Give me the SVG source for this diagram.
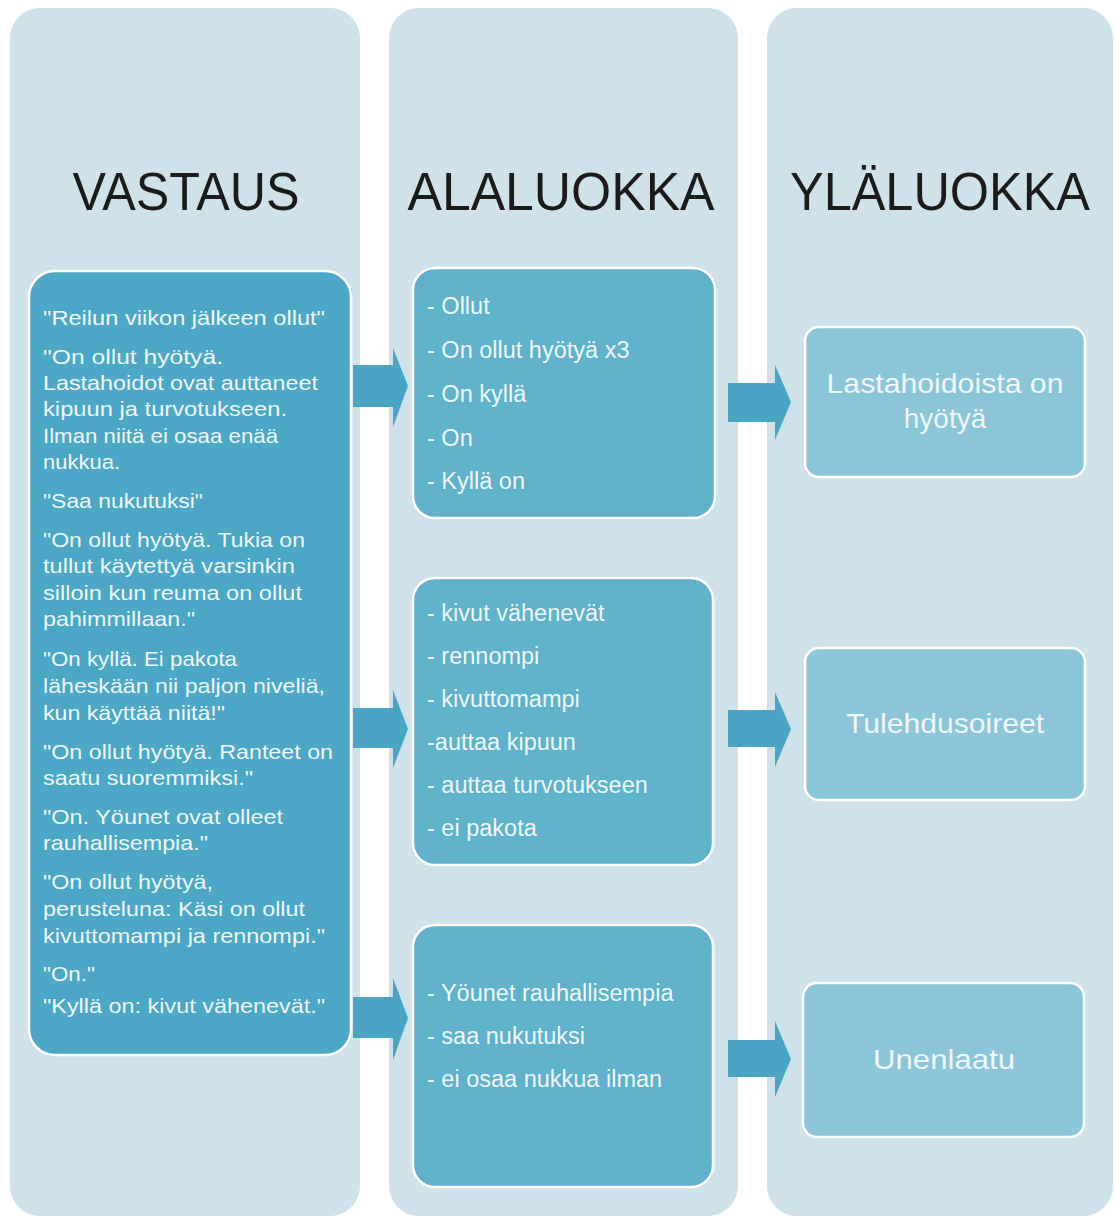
<svg xmlns="http://www.w3.org/2000/svg" width="1114" height="1218" viewBox="0 0 1114 1218">
<style>
.col{fill:#d0e2e9}
.hdr{font-family:"Liberation Sans",Arial,sans-serif;font-size:54px;fill:#1b1b1b}
.lbox{fill:#4ca6c6;stroke:#ffffff;stroke-width:2.5}
.mbox{fill:#5fb1cc;stroke:#ffffff;stroke-width:2.5}
.rbox{fill:#8ac5d9;stroke:#ffffff;stroke-width:2.5}
.lt{font-family:"Liberation Sans",Arial,sans-serif;font-size:21px;fill:#eef8fb}
.mt{font-family:"Liberation Sans",Arial,sans-serif;font-size:23.5px;fill:#eef8fb}
.rt{font-family:"Liberation Sans",Arial,sans-serif;font-size:28px;fill:#eef8fb;text-anchor:middle}
.arr{fill:#4aa5c4}
</style>
<rect width="1114" height="1218" fill="#ffffff"/>
<g id="columns">
<rect class="col" x="10" y="8" width="350" height="1208" rx="30"/>
<rect class="col" x="389" y="8" width="349" height="1208" rx="30"/>
<rect class="col" x="767" y="8" width="346" height="1208" rx="30"/>
</g>
<g id="headers">
<text class="hdr" x="186" y="210" text-anchor="middle" textLength="227" lengthAdjust="spacingAndGlyphs">VASTAUS</text>
<text class="hdr" x="561" y="210" text-anchor="middle" textLength="307" lengthAdjust="spacingAndGlyphs">ALALUOKKA</text>
<text class="hdr" x="940" y="210" text-anchor="middle" textLength="300" lengthAdjust="spacingAndGlyphs">YLÄLUOKKA</text>
</g>
<g id="connectors">
<polygon class="arr" points="353,365 393,365 393,348 408,386 393,427 393,407 353,407"/>
<polygon class="arr" points="353,708 393,708 393,690 408,729 393,768 393,748 353,748"/>
<polygon class="arr" points="353,997 393,997 393,978 408,1018 393,1060 393,1038 353,1038"/>
<polygon class="arr" points="728,383 775,383 775,365 791,402 775,440 775,422 728,422"/>
<polygon class="arr" points="728,710 775,710 775,692 791,729 775,767 775,747 728,747"/>
<polygon class="arr" points="728,1040 775,1040 775,1021 791,1059 775,1097 775,1077 728,1077"/>
</g>
<g id="vastaus">
<rect class="lbox" x="29" y="271" width="322" height="784" rx="26"/>
<text class="lt" x="43" y="325" textLength="282" lengthAdjust="spacingAndGlyphs">"Reilun viikon jälkeen ollut"</text>
<text class="lt" x="43" y="364" textLength="180" lengthAdjust="spacingAndGlyphs">"On ollut hyötyä.</text>
<text class="lt" x="43" y="390" textLength="275" lengthAdjust="spacingAndGlyphs">Lastahoidot ovat auttaneet</text>
<text class="lt" x="43" y="416" textLength="244" lengthAdjust="spacingAndGlyphs">kipuun ja turvotukseen.</text>
<text class="lt" x="43" y="443" textLength="235" lengthAdjust="spacingAndGlyphs">Ilman niitä ei osaa enää</text>
<text class="lt" x="43" y="469" textLength="77" lengthAdjust="spacingAndGlyphs">nukkua.</text>
<text class="lt" x="43" y="508" textLength="160" lengthAdjust="spacingAndGlyphs">"Saa nukutuksi"</text>
<text class="lt" x="43" y="547" textLength="262" lengthAdjust="spacingAndGlyphs">"On ollut hyötyä. Tukia on</text>
<text class="lt" x="43" y="573" textLength="252" lengthAdjust="spacingAndGlyphs">tullut käytettyä varsinkin</text>
<text class="lt" x="43" y="600" textLength="259" lengthAdjust="spacingAndGlyphs">silloin kun reuma on ollut</text>
<text class="lt" x="43" y="626" textLength="152" lengthAdjust="spacingAndGlyphs">pahimmillaan."</text>
<text class="lt" x="43" y="666" textLength="194" lengthAdjust="spacingAndGlyphs">"On kyllä. Ei pakota</text>
<text class="lt" x="43" y="693" textLength="282" lengthAdjust="spacingAndGlyphs">läheskään nii paljon niveliä,</text>
<text class="lt" x="43" y="720" textLength="182" lengthAdjust="spacingAndGlyphs">kun käyttää niitä!"</text>
<text class="lt" x="43" y="759" textLength="290" lengthAdjust="spacingAndGlyphs">"On ollut hyötyä. Ranteet on</text>
<text class="lt" x="43" y="785" textLength="210" lengthAdjust="spacingAndGlyphs">saatu suoremmiksi."</text>
<text class="lt" x="43" y="824" textLength="240" lengthAdjust="spacingAndGlyphs">"On. Yöunet ovat olleet</text>
<text class="lt" x="43" y="850" textLength="165" lengthAdjust="spacingAndGlyphs">rauhallisempia."</text>
<text class="lt" x="43" y="889" textLength="170" lengthAdjust="spacingAndGlyphs">"On ollut hyötyä,</text>
<text class="lt" x="43" y="916" textLength="262" lengthAdjust="spacingAndGlyphs">perusteluna: Käsi on ollut</text>
<text class="lt" x="43" y="943" textLength="282" lengthAdjust="spacingAndGlyphs">kivuttomampi ja rennompi."</text>
<text class="lt" x="43" y="981" textLength="52" lengthAdjust="spacingAndGlyphs">"On."</text>
<text class="lt" x="43" y="1013" textLength="282" lengthAdjust="spacingAndGlyphs">"Kyllä on: kivut vähenevät."</text>
</g>
<g id="alaluokka1">
<rect class="mbox" x="413" y="268" width="302" height="250" rx="22"/>
<text class="mt" x="427" y="314">- Ollut</text>
<text class="mt" x="427" y="358">- On ollut hyötyä x3</text>
<text class="mt" x="427" y="402">- On kyllä</text>
<text class="mt" x="427" y="446">- On</text>
<text class="mt" x="427" y="489">- Kyllä on</text>
</g>
<g id="alaluokka2">
<rect class="mbox" x="413" y="578" width="300" height="287" rx="22"/>
<text class="mt" x="427" y="621">- kivut vähenevät</text>
<text class="mt" x="427" y="664">- rennompi</text>
<text class="mt" x="427" y="707">- kivuttomampi</text>
<text class="mt" x="427" y="750">-auttaa kipuun</text>
<text class="mt" x="427" y="793">- auttaa turvotukseen</text>
<text class="mt" x="427" y="836">- ei pakota</text>
</g>
<g id="alaluokka3">
<rect class="mbox" x="413" y="925" width="300" height="262" rx="22"/>
<text class="mt" x="427" y="1001">- Yöunet rauhallisempia</text>
<text class="mt" x="427" y="1044">- saa nukutuksi</text>
<text class="mt" x="427" y="1087">- ei osaa nukkua ilman</text>
</g>
<g id="ylaluokka1">
<rect class="rbox" x="805" y="327" width="280" height="150" rx="14"/>
<text class="rt" x="945" y="393" textLength="237" lengthAdjust="spacingAndGlyphs">Lastahoidoista on</text>
<text class="rt" x="945" y="428">hyötyä</text>
</g>
<g id="ylaluokka2">
<rect class="rbox" x="805" y="648" width="280" height="152" rx="14"/>
<text class="rt" x="945" y="733" textLength="198" lengthAdjust="spacingAndGlyphs">Tulehdusoireet</text>
</g>
<g id="ylaluokka3">
<rect class="rbox" x="803" y="983" width="281" height="154" rx="14"/>
<text class="rt" x="944" y="1069" textLength="142" lengthAdjust="spacingAndGlyphs">Unenlaatu</text>
</g>
</svg>
